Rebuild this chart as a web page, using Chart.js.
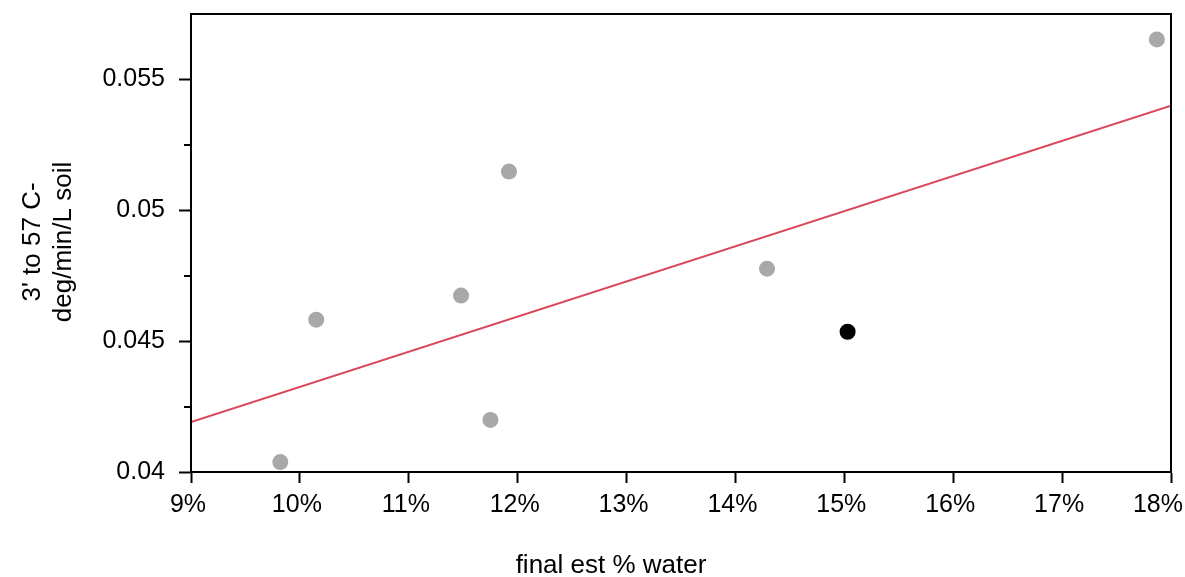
<!DOCTYPE html>
<html>
<head>
<meta charset="utf-8">
<script src="https://cdn.jsdelivr.net/npm/chart.js@4.4.1/dist/chart.umd.min.js"></script>
<style>
  html, body { margin: 0; padding: 0; background: #fff; }
  #wrap { width: 1185px; height: 577px; position: relative; }
</style>
</head>
<body>
<div id="wrap"><canvas id="c" width="1185" height="577"></canvas></div>
<script>
// Soil heating rate vs. final estimated water content
const waterPct   = [9.82, 10.15, 11.48, 11.75, 11.92, 14.29, 17.87];
const heatRate   = [0.04038, 0.04582, 0.04674, 0.04199, 0.05148, 0.04777, 0.05653];
const highlightX = [15.03];
const highlightY = [0.04536];
// Fitted trend line endpoints
const trendX = [9, 18];
const trendY = [0.04191, 0.0540];
// Axis ticks
const xTicks = [9, 10, 11, 12, 13, 14, 15, 16, 17, 18];
const yTicks = [0.04, 0.045, 0.05, 0.055];
const yMinorTicks = [0.0425, 0.0475, 0.0525];
const xTitle = 'final est % water';
const yTitle = ["3' to 57 C-", 'deg/min/L soil'];

const FONT = '"Liberation Sans", Arial, sans-serif';

const pts = (xs, ys) => xs.map((x, i) => ({ x, y: ys[i] }));

const decor = {
  id: 'decor',
  afterDraw(chart) {
    const { ctx, chartArea: a, scales, width } = chart;
    ctx.save();
    // frame
    ctx.strokeStyle = '#000';
    ctx.lineWidth = 2;
    ctx.strokeRect(a.left, a.top, a.right - a.left, a.bottom - a.top);
    // minor y ticks
    ctx.beginPath();
    yMinorTicks.forEach(v => {
      const py = Math.round(scales.y.getPixelForValue(v));
      ctx.moveTo(a.left - 7, py);
      ctx.lineTo(a.left, py);
    });
    ctx.stroke();
    // x tick labels, kept inside the canvas at the right edge
    ctx.fillStyle = '#000';
    ctx.font = '25px ' + FONT;
    ctx.textAlign = 'center';
    ctx.textBaseline = 'alphabetic';
    xTicks.forEach(v => {
      const txt = v + '%';
      const w = ctx.measureText(txt).width;
      let px = scales.x.getPixelForValue(v) - 3;
      if (px + w / 2 > width - 2) px = width - 2 - w / 2;
      ctx.fillText(txt, px, a.bottom + 40);
    });
    // axis titles
    ctx.font = '26px ' + FONT;
    ctx.textBaseline = 'middle';
    ctx.fillText(xTitle, 611, 566);
    ctx.translate(0, 242);
    ctx.rotate(-Math.PI / 2);
    ctx.fillText(yTitle[0], 0, 33);
    ctx.fillText(yTitle[1], 0, 64);
    ctx.restore();
  }
};

new Chart(document.getElementById('c'), {
  type: 'scatter',
  data: {
    datasets: [
      {
        type: 'line',
        data: pts(trendX, trendY),
        borderColor: '#d9485a',
        borderWidth: 2,
        pointRadius: 0,
        fill: false,
        order: 3
      },
      {
        data: pts(waterPct, heatRate),
        backgroundColor: '#a8a8a8',
        borderWidth: 0,
        pointRadius: 8,
        order: 2
      },
      {
        data: pts(highlightX, highlightY),
        backgroundColor: '#000',
        borderWidth: 0,
        pointRadius: 8,
        order: 1
      }
    ]
  },
  options: {
    responsive: false,
    animation: false,
    layout: { padding: { top: 14, right: 14, left: 0, bottom: 0 } },
    plugins: { legend: { display: false }, tooltip: { enabled: false } },
    scales: {
      x: {
        type: 'linear',
        min: 9, max: 18,
        afterBuildTicks: s => { s.ticks = xTicks.map(v => ({ value: v })); },
        afterFit: s => { s.height = 105; s.paddingLeft = 0; s.paddingRight = 0; },
        border: { display: true, color: '#000', width: 2 },
        grid: { drawOnChartArea: false, tickLength: 11, tickColor: '#000', tickWidth: 2 },
        ticks: { display: false }
      },
      y: {
        type: 'linear',
        min: 0.04, max: 0.0575,
        afterBuildTicks: s => { s.ticks = yTicks.map(v => ({ value: v })); },
        afterFit: s => { s.width = 191; s.paddingTop = 0; s.paddingBottom = 0; },
        border: { display: true, color: '#000', width: 2 },
        grid: { drawOnChartArea: false, tickLength: 12, tickColor: '#000', tickWidth: 2 },
        ticks: {
          color: '#000', padding: 14,
          font: { family: FONT, size: 25 },
          callback: v => String(+v.toFixed(4))
        }
      }
    }
  },
  plugins: [decor]
});
</script>
</body>
</html>
